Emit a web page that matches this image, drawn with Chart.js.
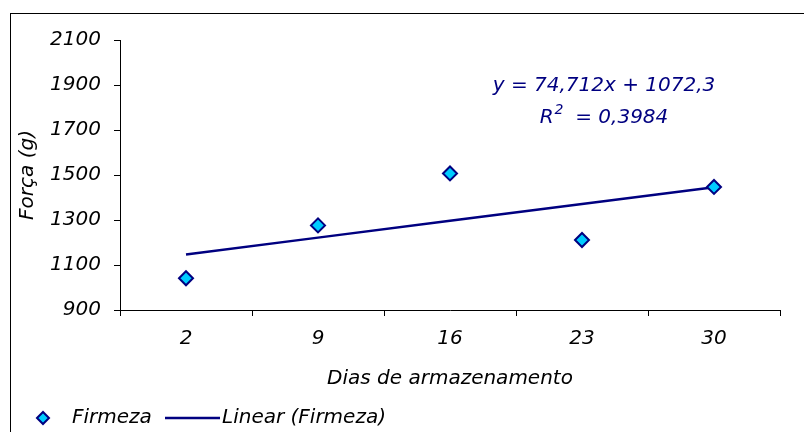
<!DOCTYPE html>
<html>
<head>
<meta charset="utf-8">
<script src="https://cdn.jsdelivr.net/npm/chart.js@4/dist/chart.umd.min.js"></script>
<style>
  html, body { margin: 0; padding: 0; background: #fff; }
  #wrap { width: 804px; height: 432px; }
</style>
</head>
<body>
<div id="wrap"><canvas id="grafico" width="804" height="432"></canvas></div>
<script>
// dados
const dias = ['2', '9', '16', '23', '30'];
const firmeza = [1041, 1276, 1507, 1211, 1447];
// linha de tendência (y = 74,712x + 1072,3)
const tendencia = [1147.0, 1221.7, 1296.4, 1371.1, 1445.9];
const yMin = 900, yMax = 2100, yPasso = 200;

const azulEscuro = '#000080';
const ciano = '#00CCFF';
const fonte = { family: 'DejaVu Sans', size: 20, style: 'italic' };
const fonteCss = 'italic 20px "DejaVu Sans"';

// moldura, equação e legenda
const extras = {
  id: 'extras',
  afterDraw(chart) {
    const ctx = chart.ctx;
    ctx.save();
    ctx.strokeStyle = '#000';
    ctx.lineWidth = 1;
    ctx.strokeRect(10.5, 13.5, 900, 600);

    ctx.font = fonteCss;
    ctx.fillStyle = azulEscuro;
    ctx.textAlign = 'center';
    ctx.textBaseline = 'middle';
    ctx.fillText('y = 74,712x + 1072,3', 604, 86);

    // R² com expoente
    const resto = '  = 0,3984';
    const wR = ctx.measureText('R').width;
    const wResto = ctx.measureText(resto).width;
    ctx.font = 'italic 14px "DejaVu Sans"';
    const wDois = ctx.measureText('2').width;
    const x0 = 604 - (wR + wDois + wResto) / 2;
    ctx.textAlign = 'left';
    ctx.font = fonteCss;
    ctx.fillText('R', x0, 118);
    ctx.font = 'italic 14px "DejaVu Sans"';
    ctx.fillText('2', x0 + wR + 1, 110);
    ctx.font = fonteCss;
    ctx.fillText(resto, x0 + wR + wDois, 118);

    // legenda
    const ly = 418;
    ctx.beginPath();
    ctx.moveTo(43 - 6, ly);
    ctx.lineTo(43, ly - 6);
    ctx.lineTo(43 + 6, ly);
    ctx.lineTo(43, ly + 6);
    ctx.closePath();
    ctx.fillStyle = ciano;
    ctx.fill();
    ctx.strokeStyle = azulEscuro;
    ctx.lineWidth = 2;
    ctx.stroke();

    ctx.fillStyle = '#000';
    ctx.fillText('Firmeza', 72, ly);
    ctx.beginPath();
    ctx.moveTo(165, ly);
    ctx.lineTo(220, ly);
    ctx.strokeStyle = azulEscuro;
    ctx.lineWidth = 2.5;
    ctx.stroke();
    ctx.fillText('Linear (Firmeza)', 222, ly);
    ctx.restore();
  }
};

new Chart(document.getElementById('grafico').getContext('2d'), {
  type: 'line',
  data: {
    labels: dias,
    datasets: [
      {
        label: 'Firmeza',
        data: firmeza,
        showLine: false,
        pointStyle: 'rectRot',
        pointRadius: 7,
        pointHoverRadius: 7,
        pointBackgroundColor: ciano,
        pointBorderColor: azulEscuro,
        pointBorderWidth: 2,
        order: 0
      },
      {
        label: 'Linear (Firmeza)',
        data: tendencia,
        borderColor: azulEscuro,
        borderWidth: 2.5,
        pointRadius: 0,
        fill: false,
        tension: 0,
        order: 1
      }
    ]
  },
  options: {
    responsive: false,
    animation: false,
    layout: { padding: { top: 40, right: 24, bottom: 0, left: 0 } },
    plugins: {
      legend: { display: false },
      tooltip: { enabled: false }
    },
    scales: {
      x: {
        offset: true,
        grid: { offset: true, drawOnChartArea: false, color: '#000', tickLength: 6 },
        border: { color: '#000', width: 1 },
        ticks: { color: '#000', font: fonte, padding: 11, maxRotation: 0 },
        title: {
          display: true,
          text: 'Dias de armazenamento',
          color: '#000',
          font: fonte,
          padding: { top: 0, bottom: 41 }
        },
        afterFit(scale) { scale.height = 122; }
      },
      y: {
        min: yMin,
        max: yMax,
        ticks: {
          stepSize: yPasso,
          color: '#000',
          font: fonte,
          padding: 13,
          callback: (v) => String(v)
        },
        grid: { drawOnChartArea: false, color: '#000', tickLength: 6 },
        border: { color: '#000', width: 1 },
        title: {
          display: true,
          text: 'Força (g)',
          color: '#000',
          font: fonte,
          padding: { top: 16, bottom: 0 }
        },
        afterFit(scale) { scale.width = 120; }
      }
    }
  },
  plugins: [extras]
});
</script>
</body>
</html>
